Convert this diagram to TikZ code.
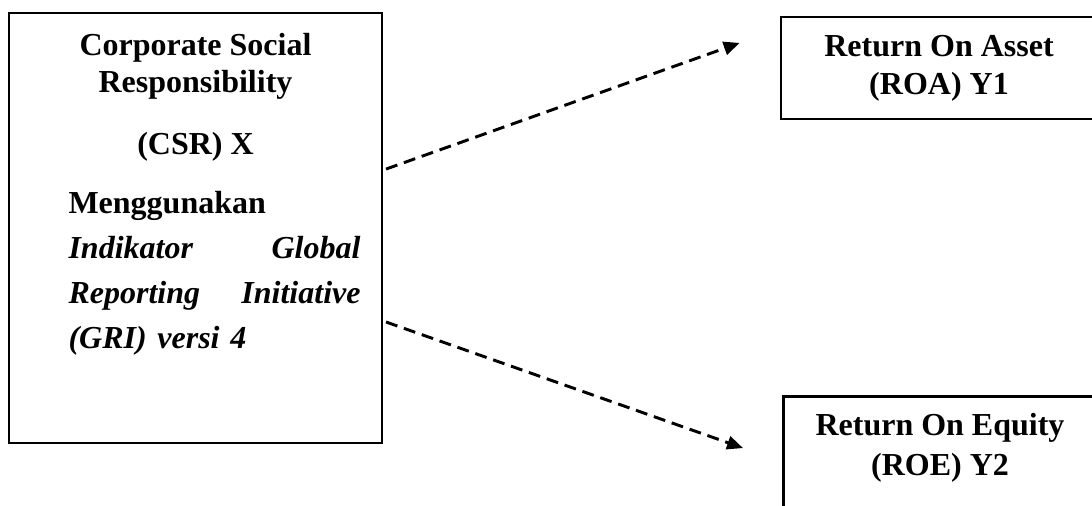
\documentclass[tikz,border=0pt]{standalone}
\usepackage{fontspec}
\setmainfont{Liberation Serif}
\usetikzlibrary{arrows.meta}

\begin{document}
\begin{tikzpicture}[x=0.375pt, y=-0.375pt,
			>={Triangle[length=6pt, width=5pt]},
			kotak/.style={draw, rectangle, line width=1pt, inner sep=0pt},
			teks/.style={font=\bfseries\fontsize{12}{13.9}\selectfont, align=center, inner sep=0pt},
			panah/.style={->, line width=1.1pt, dash pattern=on 4.5pt off 2.6pt}
			]
			\useasboundingbox (0,0) rectangle (1092,506);
			
			% Variabel X
			\node[kotak, minimum width=139.9pt, minimum height=161.25pt] (CSR) at (195.5,228) {};
			\node[teks, anchor=north] (CSRjudul) at (195.5,33) {Corporate Social\\Responsibility\\[9.4pt](CSR) X};
			\node[teks, align=left, text width=109.5pt, anchor=north west,
			      font=\bfseries\fontsize{12}{16.8}\selectfont] (CSRisi) at (68,191)
			      {Menggunakan\\
			       \textit{Indikator} \hfill \textit{Global}\\
			       \textit{Reporting} \hfill \textit{Initiative}\\
			       \textit{(GRI) versi 4}};
			
			% Variabel Y
			\node[kotak, teks, font=\bfseries\fontsize{12}{14.25}\selectfont,
			      minimum width=118.5pt, minimum height=38.25pt] (ROA) at (939,68) {Return On Asset\\(ROA) Y1};
			\node[kotak, minimum width=118.5pt, minimum height=60pt, anchor=north west] (ROE) at (782,395) {};
			\node[teks, font=\bfseries\fontsize{12}{15}\selectfont, anchor=north] (ROEjudul) at (940,413) {Return On Equity\\(ROE) Y2};
			
			% Pengaruh X terhadap Y1 dan Y2
			\draw[panah] ([xshift=1pt, yshift=22.1pt]CSR.east) -- ([xshift=-15pt, yshift=9.4pt]ROA.west);
			\draw[panah] ([xshift=1pt, yshift=-35.25pt]CSR.east) -- ([xshift=-14.6pt, yshift=-19.9pt]ROE.north west);
			
		\end{tikzpicture}
\end{document}
